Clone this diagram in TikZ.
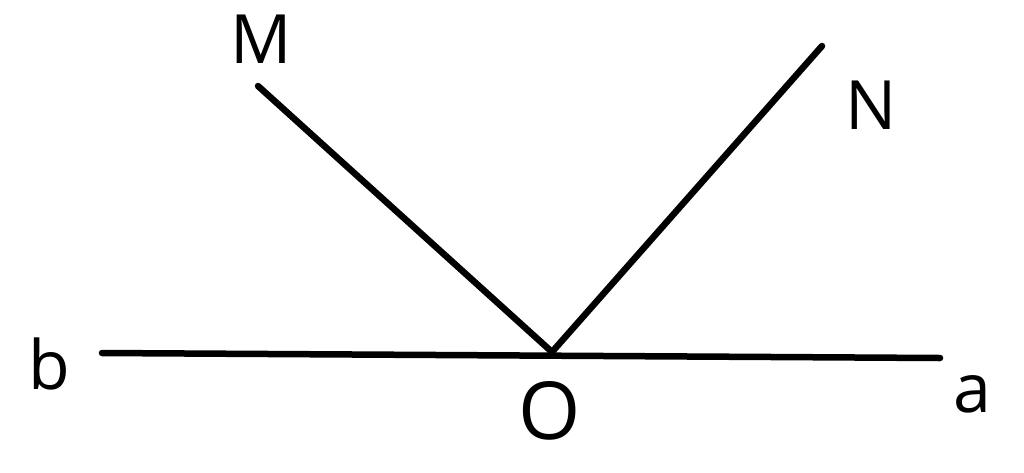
\documentclass[tikz,border=0pt]{standalone}
\usepackage{fontspec}
\setmainfont{Open Sans}
\begin{document}
\begin{tikzpicture}[x=1pt,y=-1pt,
  seg/.style={line width=6.5pt,line cap=round},
  lbl/.style={inner sep=0pt,anchor=base,font=\fontsize{68}{80}\selectfont},
  biglbl/.style={inner sep=0pt,anchor=base,font=\fontsize{80}{90}\selectfont}]
\useasboundingbox (0,0) rectangle (1024,472);
\coordinate (O) at (552,352);
\coordinate (Mend) at (258,86);
\coordinate (Nend) at (822,46);
\coordinate (bend) at (102,353);
\coordinate (aend) at (940,358);
\draw[seg] (Mend) -- (O);
\draw[seg] (Nend) -- (O);
\draw[seg] (bend) -- (aend);
\node[lbl] (M) at (261,63) {M};
\node[lbl] (N) at (871,129) {N};
\node[lbl] (b) at (49,389) {b};
\node[lbl] (a) at (972,412) {a};
\node[biglbl] (Olbl) at (550,439) {O};
\end{tikzpicture}
\end{document}
